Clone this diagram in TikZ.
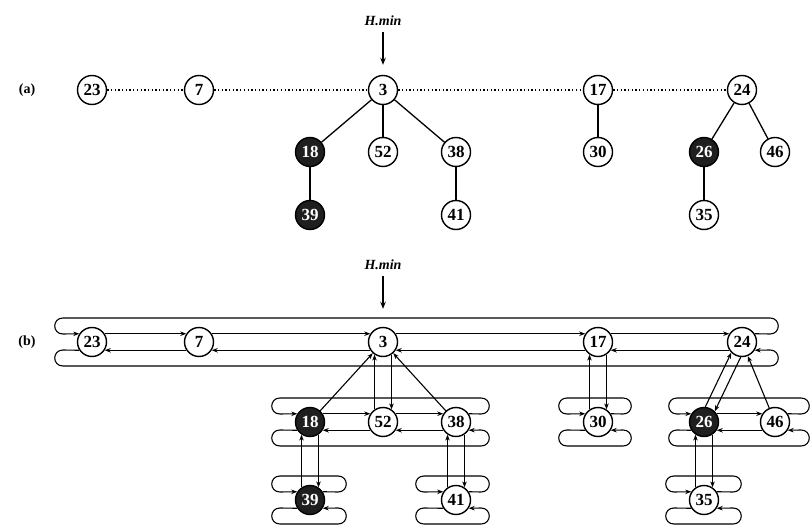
\documentclass[tikz,border=0pt]{standalone}
\usepackage{fontspec}
\setmainfont{Liberation Serif}
\usetikzlibrary{arrows.meta}
\newcommand{\cirlist}[5]{%
  \draw[ptr] (#2.33) -- (#5,#3-8) .. controls (#5+11,#3-8) and (#5+11,#3-24) .. (#5,#3-24)
     -- (#4,#3-24) .. controls (#4-11,#3-24) and (#4-11,#3-8) .. (#4,#3-8) -- (#1.147);
  \draw[ptr] (#1.213) -- (#4,#3+8) .. controls (#4-11,#3+8) and (#4-11,#3+24) .. (#4,#3+24)
     -- (#5,#3+24) .. controls (#5+11,#3+24) and (#5+11,#3+8) .. (#5,#3+8) -- (#2.327);
}
\begin{document}
\begin{tikzpicture}[x=1pt,y=-1pt,
  nd/.style={circle,draw,line width=1.4pt,minimum size=29pt,inner sep=0pt,font=\fontsize{17}{17}\selectfont\bfseries},
  mk/.style={nd,fill=black!88,text=white},
  tedge/.style={line width=1.3pt},
  dotl/.style={line width=1.3pt,dash pattern=on 1.3pt off 2.4pt},
  ptr/.style={line width=1.1pt,-{Stealth[length=6pt,width=4.5pt]}},
  lbl/.style={font=\fontsize{14}{14}\selectfont\bfseries},
  hm/.style={font=\fontsize{14}{14}\selectfont\bfseries\itshape},
  minarrow/.style={line width=1.2pt,-{Stealth[length=7pt,width=5.5pt]}}
]
\useasboundingbox (0,0) rectangle (811,526);

% ---------- (a) ----------
\node[lbl] (la) at (27,90) {(a)};
\node[hm] (hma) at (383,21) {H.min};
\node[nd] (a23) at (92,90) {23};
\node[nd] (a7) at (199,90) {7};
\node[nd] (a3) at (383,90) {3};
\node[nd] (a17) at (598,90) {17};
\node[nd] (a24) at (742,90) {24};
\node[mk] (a18) at (310,152) {18};
\node[nd] (a52) at (383,152) {52};
\node[nd] (a38) at (456,152) {38};
\node[nd] (a30) at (598,152) {30};
\node[mk] (a26) at (704,152) {26};
\node[nd] (a46) at (775,152) {46};
\node[mk] (a39) at (310,215) {39};
\node[nd] (a41) at (456,215) {41};
\node[nd] (a35) at (704,215) {35};

\draw[minarrow,shorten <=3pt,shorten >=10pt] (hma.south) -- (a3.north);
\draw[dotl] (a23) -- (a7);
\draw[dotl] (a7) -- (a3);
\draw[dotl] (a3) -- (a17);
\draw[dotl] (a17) -- (a24);
\draw[tedge] (a3) -- (a18);
\draw[tedge] (a3) -- (a52);
\draw[tedge] (a3) -- (a38);
\draw[tedge] (a18) -- (a39);
\draw[tedge] (a38) -- (a41);
\draw[tedge] (a17) -- (a30);
\draw[tedge] (a24) -- (a26);
\draw[tedge] (a24) -- (a46);
\draw[tedge] (a26) -- (a35);

% ---------- (b) ----------
\node[lbl] (lb) at (27,342) {(b)};
\node[hm] (hmb) at (383,265) {H.min};
\node[nd] (b23) at (92,342) {23};
\node[nd] (b7) at (199,342) {7};
\node[nd] (b3) at (383,342) {3};
\node[nd] (b17) at (598,342) {17};
\node[nd] (b24) at (742,342) {24};
\node[mk] (b18) at (310,422) {18};
\node[nd] (b52) at (383,422) {52};
\node[nd] (b38) at (456,422) {38};
\node[nd] (b30) at (598,422) {30};
\node[mk] (b26) at (704,422) {26};
\node[nd] (b46) at (775,422) {46};
\node[mk] (b39) at (310,500) {39};
\node[nd] (b41) at (456,500) {41};
\node[nd] (b35) at (704,500) {35};

\draw[minarrow,shorten <=3pt,shorten >=18pt] (hmb.south) -- (b3.north);

% root list
\draw[ptr] (b23.33) -- (b7.147);
\draw[ptr] (b7.33) -- (b3.147);
\draw[ptr] (b3.33) -- (b17.147);
\draw[ptr] (b17.33) -- (b24.147);
\draw[ptr] (b7.213) -- (b23.327);
\draw[ptr] (b3.213) -- (b7.327);
\draw[ptr] (b17.213) -- (b3.327);
\draw[ptr] (b24.213) -- (b17.327);
\cirlist{b23}{b24}{342}{63}{770}

% children of 3
\draw[ptr] (b18.33) -- (b52.147);
\draw[ptr] (b52.33) -- (b38.147);
\draw[ptr] (b52.213) -- (b18.327);
\draw[ptr] (b38.213) -- (b52.327);
\cirlist{b18}{b38}{422}{280}{481}

% children of 17
\cirlist{b30}{b30}{422}{567}{623}

% children of 24
\draw[ptr] (b26.33) -- (b46.147);
\draw[ptr] (b46.213) -- (b26.327);
\cirlist{b26}{b46}{422}{677}{801}

% third level
\cirlist{b39}{b39}{500}{280}{338}
\cirlist{b41}{b41}{500}{424}{481}
\cirlist{b35}{b35}{500}{674}{733}

% parent / child pointers
\draw[ptr] (b52.124) -- (b3.236);
\draw[ptr] (b3.304) -- (b52.56);
\draw[ptr] (b18) -- (b3);
\draw[ptr] (b38) -- (b3);
\draw[ptr] (b30.124) -- (b17.236);
\draw[ptr] (b17.304) -- (b30.56);
\draw[ptr] (b26.85) -- (b24.225);
\draw[ptr] (b24.265) -- (b26.45);
\draw[ptr] (b46) -- (b24);
\draw[ptr] (b39.124) -- (b18.236);
\draw[ptr] (b18.304) -- (b39.56);
\draw[ptr] (b41.124) -- (b38.236);
\draw[ptr] (b38.304) -- (b41.56);
\draw[ptr] (b35.124) -- (b26.236);
\draw[ptr] (b26.304) -- (b35.56);
\end{tikzpicture}
\end{document}
